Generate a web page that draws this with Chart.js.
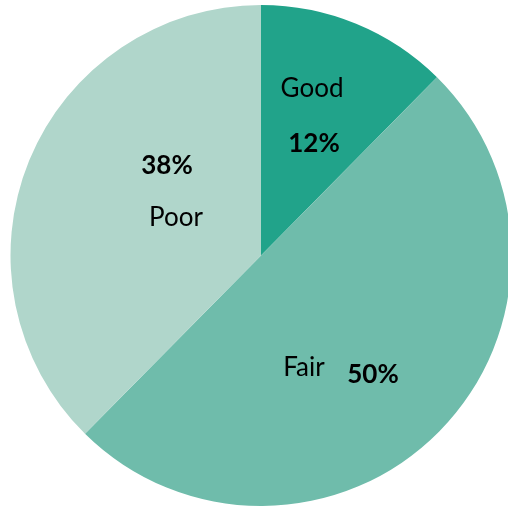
<!DOCTYPE html>
<html>
<head>
<meta charset="utf-8">
<script src="https://cdn.jsdelivr.net/npm/chart.js@4/dist/chart.umd.min.js"></script>
<style>
  html, body { margin: 0; padding: 0; background: #fff; overflow: hidden; }
  #wrap { width: 520px; height: 507px; }
</style>
</head>
<body>
<div id="wrap"><canvas id="pie" width="520" height="507"></canvas></div>
<script>
"use strict";

// Data ----------------------------------------------------------------------
const categories = ["Good", "Fair", "Poor"];
const shares = [12.4, 50.0, 37.6];
const sliceColors = ["#21a38a", "#6fbcab", "#b0d6cb"];

// Hand-placed label spots (px from pie centre), like the dragged labels
// of the original chart: [name, percentage]
const labelSpots = [
  [[51, -167], [53, -112]],
  [[43, 112], [112, 119]],
  [[-85, -38], [-94, -90]],
];

const pieLabels = {
  id: "pieLabels",
  afterDatasetsDraw(chart) {
    const ctx = chart.ctx;
    const arcs = chart.getDatasetMeta(0).data;
    ctx.save();
    ctx.fillStyle = "#000";
    ctx.textAlign = "center";
    ctx.textBaseline = "middle";
    arcs.forEach((arc, i) => {
      const [nameAt, pctAt] = labelSpots[i];
      ctx.font = "26px Lato";
      ctx.fillText(categories[i], arc.x + nameAt[0], arc.y + nameAt[1]);
      ctx.font = "bold 26px Lato";
      ctx.fillText(Math.round(shares[i]) + "%", arc.x + pctAt[0], arc.y + pctAt[1]);
    });
    ctx.restore();
  },
};

new Chart(document.getElementById("pie"), {
  type: "pie",
  data: {
    labels: categories,
    datasets: [{
      data: shares,
      backgroundColor: sliceColors,
      borderWidth: 0,
      hoverOffset: 0,
    }],
  },
  options: {
    responsive: false,
    animation: false,
    layout: { padding: { top: 5, bottom: 1, left: 10.5, right: 8.5 } },
    plugins: {
      legend: { display: false },
      tooltip: { enabled: false },
    },
  },
  plugins: [pieLabels],
});
</script>
</body>
</html>
